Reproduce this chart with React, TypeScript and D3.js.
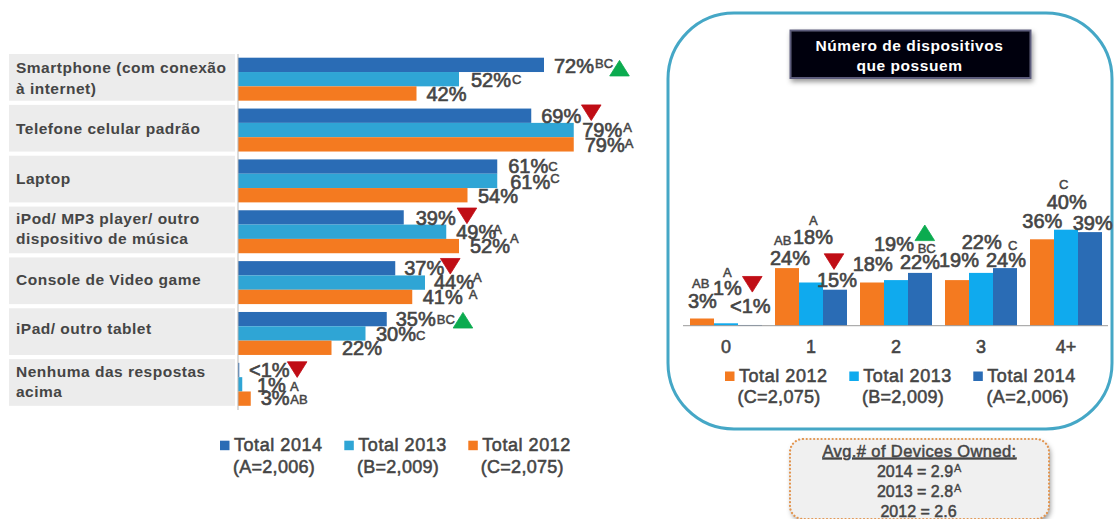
import React from "react";
import * as d3 from "d3";

const WIDTH = 1114;
const HEIGHT = 519;
const INK = "#454545";
const FONT = "'Liberation Sans', Arial, sans-serif";
const ORANGE = "#f47a20";
const DEEP_BLUE = "#2a6cb5";
const TEAL = "#2fa5d5";
const SKY = "#0faaee";
const RED = "#c00d15";
const GREEN = "#0bab4f";

// Device ownership by year (percent of respondents)
const deviceRows = [
  ["Smartphone (com conexão", "à internet)"],
  ["Telefone celular padrão"],
  ["Laptop"],
  ["iPod/ MP3 player/ outro", "dispositivo de música"],
  ["Console de Video game"],
  ["iPad/ outro tablet"],
  ["Nenhuma das respostas", "acima"],
];
const deviceLabelBaselines = [[73.3, 94.3], [134], [184.3], [224, 244], [285], [334], [376.7, 396.7]];
const devices2014 = [72, 69, 61, 39, 37, 35, 0.3];
const devices2013 = [52, 79, 61, 49, 44, 30, 1];
const devices2012 = [42, 79, 54, 52, 41, 22, 3];
const deviceText2014 = ["72%", "69%", "61%", "39%", "37%", "35%", "<1%"];
const deviceText2013 = ["52%", "79%", "61%", "49%", "44%", "30%", "1%"];
const deviceText2012 = ["42%", "79%", "54%", "52%", "41%", "22%", "3%"];
const deviceSig2014 = ["BC", "", "C", "", "", "BC", ""];
const deviceSig2013 = ["C", "A", "C", "A", "A", "C", "A"];
const deviceSig2012 = ["", "A", "", "A", "A", "", "AB"];
// Hand-placed label nudges: [dx, dy, sigDx, sigDy]
const deviceNudge2014 = [[10, 7.8, 41, -4.7], [10, 6.9, 0, 0], [11, 6.3, 40, -2], [12, 7.4, 0, 0], [9, 7.2, 0, 0], [9, 6.6, 41, -2], [9.7, 7.4, 0, 0]];
const deviceNudge2013 = [[12, 7.5, 41, -2.7], [8.5, 7.2, 41, -5.6], [13, 8, 40, -6.3], [10, 7.4, 37, -5.3], [9, 6.5, 39, -7.6], [10.5, 8, 40, -1.7], [14.75, 7.4, 33, -1]];
const deviceNudge2012 = [[10, 7.5, 0, 0], [11, 7.3, 40, -3.7], [10.5, 7.4, 0, 0], [11, 7.1, 40, -10.6], [10.5, 7.2, 46, -5], [10.5, 7.7, 0, 0], [10, 6.8, 29.5, -1.7]];
// Trend arrows on the 2014 series: [row, direction, dx, dy]
const deviceArrows: [number, string, number, number][] = [[0, "up", 75.5, 3.3], [1, "down", 60, -3], [3, "down", 63.2, -1.6], [4, "down", 55, -2], [5, "up", 76.2, 1.1], [6, "down", 57.9, -0.4]];

// Number of devices owned
const countCategories = ["0", "1", "2", "3", "4+"];
const count2012 = [3, 24, 18, 19, 36];
const count2013 = [1, 18, 19, 22, 40];
const count2014 = [0.3, 15, 22, 24, 39];
const countText2012 = ["3%", "24%", "18%", "19%", "36%"];
const countText2013 = ["1%", "18%", "19%", "22%", "40%"];
const countText2014 = ["<1%", "15%", "22%", "24%", "39%"];
const countSig2012 = ["AB", "AB", "", "", ""];
const countSig2013 = ["A", "A", "BC", "", "C"];
const countSig2014 = ["", "", "", "C", ""];
const countNudge2012 = [[-14, -10.8, 4, -19.4], [-17, -3.1, 4, -19.7], [-19.3, -11.8, 0, 0], [-18, -12.8, 0, 0], [-19.7, -11, 0, 0]];
const countNudge2013 = [[-13, -28.3, 10, -18], [-18, -38.2, 16, -19.3], [-22, -29.4, 43.7, 2.6], [-19.3, -23.6, 0, 0], [-19.3, -20.7, 12.3, -19.7]];
const countNudge2014 = [[-20, -12, 0, 0], [-18, -2.4, 0, 0], [-20, -3.6, 0, 0], [-19, -1.4, 22, -16.7], [-17.3, -2.1, 0, 0]];
const countArrows: [number, string, number, number][] = [[0, "down", 2.3, -40.7], [1, "down", -1, -28.1], [2, "up", 4.8, -40.1]];

const averageLines = [["2014 = 2.9", "A"], ["2013 = 2.8", "A"], ["2012 = 2.6", ""]];
const averageCenters = [915, 915, 918.5];

const rowIndex = d3.range(deviceRows.length);
const devX = d3.scaleLinear().domain([0, 100]).range([238, 663]);
const devRow = d3.scaleBand<number>().domain(rowIndex).range([57.7, 405.8]).paddingInner(0.155);
const devSeries = d3.scaleBand<number>().domain([0, 1, 2]).range([0, devRow.bandwidth()]);

const groupIndex = d3.range(countCategories.length);
const countGroup = d3.scaleBand<number>().domain(groupIndex).range([690, 1102]).paddingInner(0.153);
const countSeries = d3.scaleBand<number>().domain([0, 1, 2]).range([0, countGroup.bandwidth()]);
const countY = d3.scaleLinear().domain([0, 50]).range([325.7, 205.7]);

const deviceSeries = [
  { values: devices2014, text: deviceText2014, sig: deviceSig2014, nudge: deviceNudge2014, color: DEEP_BLUE },
  { values: devices2013, text: deviceText2013, sig: deviceSig2013, nudge: deviceNudge2013, color: TEAL },
  { values: devices2012, text: deviceText2012, sig: deviceSig2012, nudge: deviceNudge2012, color: ORANGE },
];
const countSeriesList = [
  { values: count2012, text: countText2012, sig: countSig2012, nudge: countNudge2012, color: ORANGE },
  { values: count2013, text: countText2013, sig: countSig2013, nudge: countNudge2013, color: SKY },
  { values: count2014, text: countText2014, sig: countSig2014, nudge: countNudge2014, color: DEEP_BLUE },
];

const Arrow = ({ x, y, dir }: { x: number; y: number; dir: string }) => {
  const w = 9.8;
  const h = 7.8;
  const s = dir === "up" ? 1 : -1;
  const path = d3.line()([[x - w, y + s * h], [x + w, y + s * h], [x, y - s * h]]) + "Z";
  return <path d={path} fill={dir === "up" ? GREEN : RED} stroke={dir === "up" ? GREEN : RED} strokeWidth={0.8} strokeLinejoin="round" />;
};

const Value = ({ x, y, text, sig, sigDx, sigDy }: { x: number; y: number; text: string; sig: string; sigDx: number; sigDy: number }) => (
  <g fill={INK} stroke={INK}>
    <text x={x} y={y} fontSize={20} strokeWidth={0.65}>{text}</text>
    {sig && <text x={x + sigDx} y={y + sigDy} fontSize={13} strokeWidth={0.5}>{sig}</text>}
  </g>
);

const LegendEntry = ({ x, y, title, base, color, center }: { x: number; y: number; title: string; base: string; color: string; center: number }) => (
  <g>
    <rect x={x - 14} y={y - 10} width={9.5} height={9.5} fill={color} />
    <text x={x} y={y} fontSize={18} letterSpacing={0.55} fill={INK} stroke={INK} strokeWidth={0.55}>{title}</text>
    <text x={center} y={y + 21.8} fontSize={18} letterSpacing={0.3} textAnchor="middle" fill={INK} stroke={INK} strokeWidth={0.55}>{base}</text>
  </g>
);

export default function App() {
  return (
    <svg width={WIDTH} height={HEIGHT} viewBox={`0 0 ${WIDTH} ${HEIGHT}`} fontFamily={FONT}
      style={{ position: "absolute", left: 0, top: 0, background: "#fff" }}>
      <defs>
        <filter id="soft-shadow" x="-10%" y="-20%" width="120%" height="150%">
          <feDropShadow dx="1.5" dy="3" stdDeviation="2.5" floodColor="#000" floodOpacity="0.4" />
        </filter>
      </defs>

      {/* Ownership chart: category plates */}
      {deviceRows.map((lines, r) => (
        <g key={r}>
          <rect x={9} width={226} y={devRow(r)! - 3.7} height={46.7} fill="#ececec" />
          {lines.map((line, i) => (
            <text key={i} x={16} y={deviceLabelBaselines[r][i]} fontSize={15.5} fontWeight="bold" letterSpacing={0.5}
              fill={INK}>{line}</text>
          ))}
        </g>
      ))}

      {/* Ownership chart: bars */}
      {deviceSeries.map((s, k) => rowIndex.map((r) => (
        <rect key={`${k}-${r}`} x={devX(0)} y={devRow(r)! + devSeries(k)!} width={devX(s.values[r]) - devX(0)}
          height={devSeries.bandwidth()} fill={s.color} />
      )))}
      <line x1={238} x2={238} y1={54} y2={410} stroke="#b5b5b5" strokeWidth={1} />

      {/* Ownership chart: value labels and arrows */}
      {deviceSeries.map((s, k) => rowIndex.map((r) => {
        const [dx, dy, sigDx, sigDy] = s.nudge[r];
        const cy = devRow(r)! + devSeries(k)! + devSeries.bandwidth() / 2;
        return <Value key={`${k}-${r}`} x={devX(s.values[r]) + dx} y={cy + dy} text={s.text[r]} sig={s.sig[r]} sigDx={sigDx} sigDy={sigDy} />;
      }))}
      {deviceArrows.map(([r, dir, dx, dy]) => (
        <Arrow key={r} dir={dir} x={devX(devices2014[r]) + dx}
          y={devRow(r)! + devSeries(0)! + devSeries.bandwidth() / 2 + dy} />
      ))}

      <LegendEntry x={234} y={450.7} title="Total 2014" base="(A=2,006)" color={DEEP_BLUE} center={274} />
      <LegendEntry x={358.3} y={450.7} title="Total 2013" base="(B=2,009)" color={TEAL} center={398} />
      <LegendEntry x={482.3} y={450.7} title="Total 2012" base="(C=2,075)" color={ORANGE} center={522.3} />

      {/* Device count panel */}
      <rect x={668} y={13} width={444} height={416} rx={66} ry={66} fill="#fff" stroke="#45a7c6" strokeWidth={3} />
      <rect x={790.5} y={30.5} width={240} height={47.5} fill="#050510" stroke="#5c5c7c" strokeWidth={2} filter="url(#soft-shadow)" />
      <text x={909.5} y={50.7} fontSize={15.5} fontWeight="bold" letterSpacing={0.55} textAnchor="middle" fill="#fff">Número de dispositivos</text>
      <text x={909.5} y={70.7} fontSize={15.5} fontWeight="bold" letterSpacing={0.55} textAnchor="middle" fill="#fff">que possuem</text>

      {countSeriesList.map((s, k) => groupIndex.map((g) => (
        <rect key={`${k}-${g}`} x={countGroup(g)! + countSeries(k)!} y={countY(s.values[g])} width={countSeries.bandwidth()}
          height={countY(0) - countY(s.values[g])} fill={s.color} />
      )))}
      <line x1={683} x2={1108} y1={countY(0)} y2={countY(0)} stroke="#9a9a9a" strokeWidth={1} />

      {countSeriesList.map((s, k) => groupIndex.map((g) => {
        const [dx, dy, sigDx, sigDy] = s.nudge[g];
        const cx = countGroup(g)! + countSeries(k)! + countSeries.bandwidth() / 2;
        return <Value key={`${k}-${g}`} x={cx + dx} y={countY(s.values[g]) + dy} text={s.text[g]} sig={s.sig[g]} sigDx={sigDx} sigDy={sigDy} />;
      }))}
      {countArrows.map(([g, dir, dx, dy]) => (
        <Arrow key={g} dir={dir} x={countGroup(g)! + countSeries(2)! + countSeries.bandwidth() / 2 + dx} y={countY(count2014[g]) + dy} />
      ))}

      {groupIndex.map((g) => (
        <text key={g} x={countGroup(g)! + countGroup.bandwidth() / 2} y={353} fontSize={18} textAnchor="middle"
          fill={INK} stroke={INK} strokeWidth={0.55}>{countCategories[g]}</text>
      ))}

      <LegendEntry x={739} y={381.5} title="Total 2012" base="(C=2,075)" color={ORANGE} center={779} />
      <LegendEntry x={863.3} y={381.5} title="Total 2013" base="(B=2,009)" color={SKY} center={903} />
      <LegendEntry x={987.3} y={381.5} title="Total 2014" base="(A=2,006)" color={DEEP_BLUE} center={1027.7} />

      {/* Average devices callout */}
      <rect x={790} y={439} width={259} height={80} rx={13} ry={13} fill="#f0f0f0" filter="url(#soft-shadow)" />
      <rect x={790} y={439} width={259} height={80} rx={13} ry={13} fill="none" stroke="#e2944e" strokeWidth={2.2} strokeDasharray="0.1 3.6" strokeLinecap="round" />
      <text x={919.5} y={456.7} fontSize={16.5} textAnchor="middle" textDecoration="underline" letterSpacing={0.4}
        fill={INK} stroke={INK} strokeWidth={0.5}>Avg.# of Devices Owned:</text>
      {averageLines.map(([line, sig], i) => (
        <g key={i} fill={INK} stroke={INK} strokeWidth={0.5}>
          <text x={averageCenters[i]} y={476.7 + i * 20} fontSize={16} textAnchor="middle">{line}</text>
          {sig && <text x={954} y={471.7 + i * 20} fontSize={11} strokeWidth={0.3}>{sig}</text>}
        </g>
      ))}
    </svg>
  );
}
